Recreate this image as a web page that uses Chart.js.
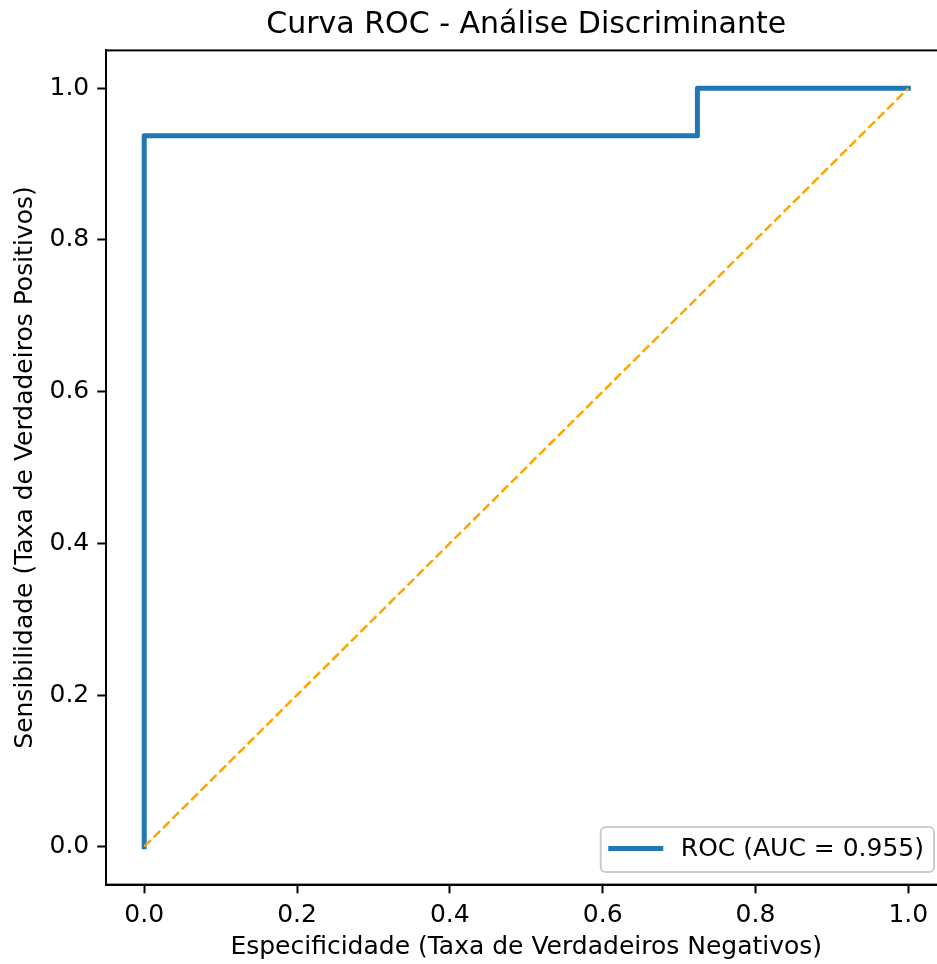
<!DOCTYPE html>
<html>
<head>
<meta charset="utf-8">
<script src="https://cdn.jsdelivr.net/npm/chart.js@4.4.1/dist/chart.umd.min.js"></script>
<style>
  html, body { margin: 0; padding: 0; background: #fff; overflow: hidden; }
  #wrap { width: 937px; height: 964px; overflow: hidden; }
  #rocChart { display: block; }
</style>
</head>
<body>
<div id="wrap"><canvas id="rocChart" width="960" height="964"></canvas></div>
<script>
// ROC curve points (false positive rate / true positive rate)
const rocX = [0, 0, 0.724, 0.724, 1];
const rocY = [0, 0.9375, 0.9375, 1, 1];
// reference diagonal
const diagX = [0, 1];
const diagY = [0, 1];

const xTicks = [0, 0.2, 0.4, 0.6, 0.8, 1.0];
const yTicks = [0, 0.2, 0.4, 0.6, 0.8, 1.0];

const rocLabel = 'ROC (AUC = 0.955)';
const FONT = '"DejaVu Sans", "Liberation Sans", sans-serif';
const FS = 25;

function toPoints(xs, ys) {
  return xs.map((x, i) => ({ x: x, y: ys[i] }));
}

// box around the axes (matplotlib style spines)
const framePlugin = {
  id: 'frame',
  afterDraw(chart) {
    const { ctx, chartArea: a } = chart;
    ctx.save();
    ctx.strokeStyle = '#000';
    ctx.lineWidth = 2;
    ctx.strokeRect(a.left, a.top, a.right - a.left, a.bottom - a.top);
    ctx.restore();
  }
};

// legend in the lower right corner, inside the axes
const cornerLegend = {
  id: 'cornerLegend',
  afterDraw(chart) {
    const { ctx, chartArea: a } = chart;
    const ds = chart.data.datasets[0];
    ctx.save();
    ctx.font = FS + 'px ' + FONT;
    const tw = ctx.measureText(ds.label).width;
    const pad = 0.4 * FS, hl = 2 * FS, htp = 0.8 * FS;
    const w = pad + hl + htp + tw + pad;
    const h = 1.8 * FS;
    const right = a.right - 0.5 * FS;
    const bottom = a.bottom - 0.5 * FS;
    const left = right - w, top = bottom - h;
    const r = 0.2 * FS;

    ctx.beginPath();
    ctx.moveTo(left + r, top);
    ctx.arcTo(right, top, right, bottom, r);
    ctx.arcTo(right, bottom, left, bottom, r);
    ctx.arcTo(left, bottom, left, top, r);
    ctx.arcTo(left, top, right, top, r);
    ctx.closePath();
    ctx.fillStyle = 'rgba(255,255,255,0.8)';
    ctx.fill();
    ctx.strokeStyle = '#cccccc';
    ctx.lineWidth = 2;
    ctx.stroke();

    const cy = top + h / 2 - 1;
    ctx.beginPath();
    ctx.moveTo(left + pad, cy);
    ctx.lineTo(left + pad + hl, cy);
    ctx.strokeStyle = ds.borderColor;
    ctx.lineWidth = ds.borderWidth;
    ctx.lineCap = 'square';
    ctx.stroke();

    ctx.fillStyle = '#000';
    ctx.textBaseline = 'middle';
    ctx.textAlign = 'left';
    ctx.fillText(ds.label, left + pad + hl + htp, cy + 1);
    ctx.restore();
  }
};

const ctx = document.getElementById('rocChart').getContext('2d');

const rocChart = new Chart(ctx, {
  type: 'line',
  data: {
    datasets: [{
      label: rocLabel,
      data: toPoints(rocX, rocY),
      borderColor: '#1f77b4',
      borderWidth: 5,
      borderCapStyle: 'square',
      borderJoinStyle: 'round',
      pointRadius: 0,
      fill: false,
      tension: 0,
      order: 1
    }, {
      label: 'diagonal',
      data: toPoints(diagX, diagY),
      borderColor: '#FFA500',
      borderWidth: 2.5,
      borderDash: [9.25, 4],
      pointRadius: 0,
      fill: false,
      tension: 0,
      order: 0
    }]
  },
  options: {
    responsive: false,
    animation: false,
    // canvas is wider than the window: the right spine falls just outside
    layout: { padding: { left: 0, right: 13.5, top: 0, bottom: 0 } },
    plugins: {
      legend: { display: false },
      tooltip: { enabled: false },
      title: {
        display: true,
        fullSize: false,
        text: 'Curva ROC - Análise Discriminante',
        color: '#000',
        font: { family: FONT, size: 30, weight: 'normal', lineHeight: 1.2 },
        padding: { top: 7, bottom: 7.4 }
      }
    },
    scales: {
      x: {
        type: 'linear',
        min: -0.05,
        max: 1.05,
        afterFit(scale) { scale.height = 79.4; },
        afterBuildTicks(scale) { scale.ticks = xTicks.map(v => ({ value: v })); },
        ticks: {
          color: '#000',
          font: { family: FONT, size: FS },
          padding: 7,
          maxRotation: 0,
          callback: v => v.toFixed(1)
        },
        grid: {
          drawOnChartArea: false,
          drawTicks: true,
          tickLength: 8.75,
          tickWidth: 2,
          tickColor: '#000'
        },
        border: { display: true, color: '#000', width: 2 },
        title: {
          display: true,
          text: 'Especificidade (Taxa de Verdadeiros Negativos)',
          color: '#000',
          font: { family: FONT, size: FS, lineHeight: 1.2 },
          padding: { top: 0, bottom: 1.5 }
        }
      },
      y: {
        type: 'linear',
        min: -0.05,
        max: 1.05,
        afterFit(scale) { scale.width = 106; },
        afterBuildTicks(scale) { scale.ticks = yTicks.map(v => ({ value: v })); },
        ticks: {
          color: '#000',
          font: { family: FONT, size: FS },
          padding: 8,
          callback: v => v.toFixed(1)
        },
        grid: {
          drawOnChartArea: false,
          drawTicks: true,
          tickLength: 8.75,
          tickWidth: 2,
          tickColor: '#000'
        },
        border: { display: true, color: '#000', width: 2 },
        title: {
          display: true,
          text: 'Sensibilidade (Taxa de Verdadeiros Positivos)',
          color: '#000',
          font: { family: FONT, size: FS, lineHeight: 1.2 },
          padding: { top: 10, bottom: 0 }
        }
      }
    }
  },
  plugins: [framePlugin, cornerLegend]
});
</script>
</body>
</html>
